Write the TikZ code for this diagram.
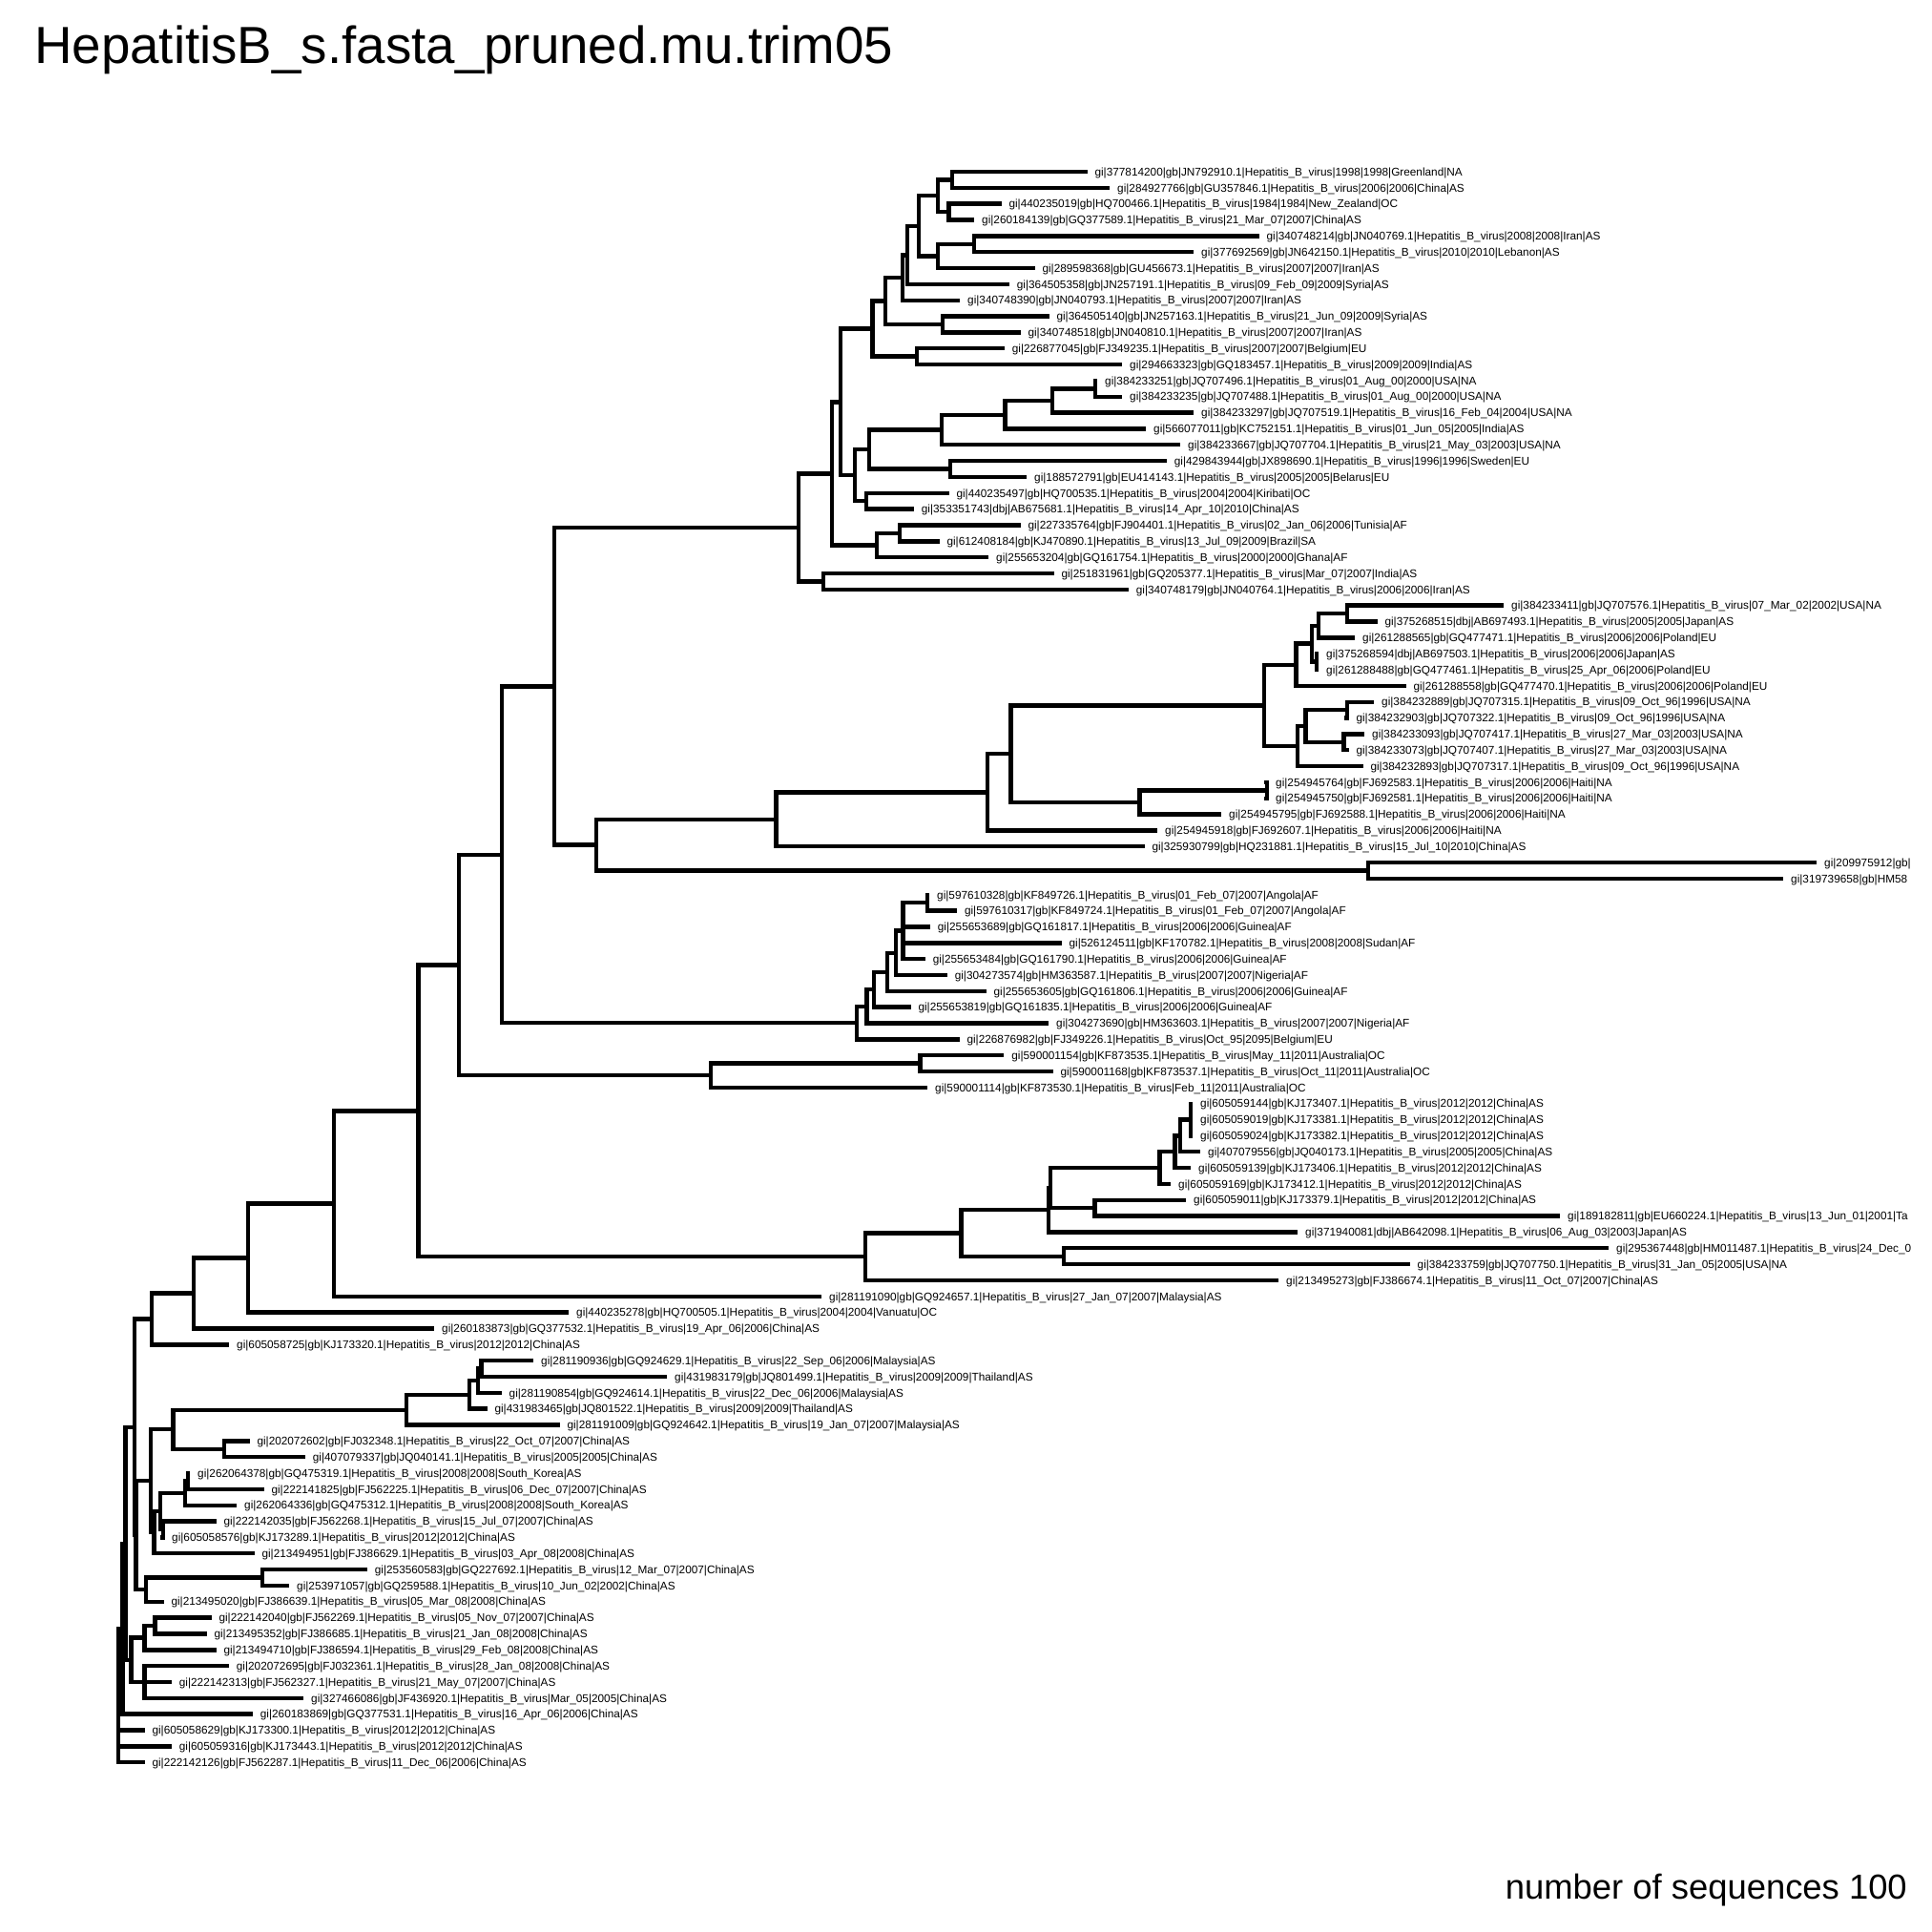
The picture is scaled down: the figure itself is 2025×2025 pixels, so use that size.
\documentclass[tikz,border=0pt]{standalone}
\usepackage{fontspec}
\setmainfont{Liberation Sans}
\usetikzlibrary{calc}
\newcommand\tipleaf[3]{%
  \coordinate (L#1) at ({#2-2},{180+16.84*(#1-1)});
  \node[lab] (t#1) at (L#1) {#3};}
\newcommand\tpoly[5]{%
  \path let \p1=($(#3)!0.5!(#4)$) in (#2pt,\y1) coordinate (#1);
  \draw[br] (#1 |- #3) -- (#1 |- #4);
  \foreach \c in {#5}{\draw[br] (#1 |- \c) -- (\c);}}
\newcommand\tbin[4]{\tpoly{#1}{#2}{#3}{#4}{#3,#4}}
\begin{document}
\begin{tikzpicture}[x=1pt,y=-1pt,
  br/.style={line width=4.4pt,line cap=rect},
  lab/.style={anchor=base west,inner sep=0pt,xshift=10pt,yshift=-4.2pt,font=\fontsize{11.8}{12}\selectfont}]
\fill[white] (0,0) rectangle (2025,2025);
\useasboundingbox (0,0) rectangle (2025,2025);
\clip (0,0) rectangle (2025,2025);
\node[anchor=base west,inner sep=0pt,font=\fontsize{54.7}{60}\selectfont] (title) at (36,67) {HepatitisB\_s.fasta\_pruned.mu.trim05};
\node[anchor=base east,inner sep=0pt,font=\fontsize{36.4}{40}\selectfont] (nseq) at (1999,1990) {number of sequences 100};
% leaves
\tipleaf{1}{1139.3}{gi|377814200|gb|JN792910.1|Hepatitis\_B\_virus|1998|1998|Greenland|NA}
\tipleaf{2}{1163}{gi|284927766|gb|GU357846.1|Hepatitis\_B\_virus|2006|2006|China|AS}
\tipleaf{3}{1049.3}{gi|440235019|gb|HQ700466.1|Hepatitis\_B\_virus|1984|1984|New\_Zealand|OC}
\tipleaf{4}{1021}{gi|260184139|gb|GQ377589.1|Hepatitis\_B\_virus|21\_Mar\_07|2007|China|AS}
\tipleaf{5}{1319.4}{gi|340748214|gb|JN040769.1|Hepatitis\_B\_virus|2008|2008|Iran|AS}
\tipleaf{6}{1251}{gi|377692569|gb|JN642150.1|Hepatitis\_B\_virus|2010|2010|Lebanon|AS}
\tipleaf{7}{1084.3}{gi|289598368|gb|GU456673.1|Hepatitis\_B\_virus|2007|2007|Iran|AS}
\tipleaf{8}{1057.7}{gi|364505358|gb|JN257191.1|Hepatitis\_B\_virus|09\_Feb\_09|2009|Syria|AS}
\tipleaf{9}{1006}{gi|340748390|gb|JN040793.1|Hepatitis\_B\_virus|2007|2007|Iran|AS}
\tipleaf{10}{1099.3}{gi|364505140|gb|JN257163.1|Hepatitis\_B\_virus|21\_Jun\_09|2009|Syria|AS}
\tipleaf{11}{1069.3}{gi|340748518|gb|JN040810.1|Hepatitis\_B\_virus|2007|2007|Iran|AS}
\tipleaf{12}{1052.7}{gi|226877045|gb|FJ349235.1|Hepatitis\_B\_virus|2007|2007|Belgium|EU}
\tipleaf{13}{1176}{gi|294663323|gb|GQ183457.1|Hepatitis\_B\_virus|2009|2009|India|AS}
\tipleaf{14}{1150}{gi|384233251|gb|JQ707496.1|Hepatitis\_B\_virus|01\_Aug\_00|2000|USA|NA}
\tipleaf{15}{1176}{gi|384233235|gb|JQ707488.1|Hepatitis\_B\_virus|01\_Aug\_00|2000|USA|NA}
\tipleaf{16}{1251}{gi|384233297|gb|JQ707519.1|Hepatitis\_B\_virus|16\_Feb\_04|2004|USA|NA}
\tipleaf{17}{1201}{gi|566077011|gb|KC752151.1|Hepatitis\_B\_virus|01\_Jun\_05|2005|India|AS}
\tipleaf{18}{1237}{gi|384233667|gb|JQ707704.1|Hepatitis\_B\_virus|21\_May\_03|2003|USA|NA}
\tipleaf{19}{1222.7}{gi|429843944|gb|JX898690.1|Hepatitis\_B\_virus|1996|1996|Sweden|EU}
\tipleaf{20}{1076}{gi|188572791|gb|EU414143.1|Hepatitis\_B\_virus|2005|2005|Belarus|EU}
\tipleaf{21}{994.3}{gi|440235497|gb|HQ700535.1|Hepatitis\_B\_virus|2004|2004|Kiribati|OC}
\tipleaf{22}{957.7}{gi|353351743|dbj|AB675681.1|Hepatitis\_B\_virus|14\_Apr\_10|2010|China|AS}
\tipleaf{23}{1069.3}{gi|227335764|gb|FJ904401.1|Hepatitis\_B\_virus|02\_Jan\_06|2006|Tunisia|AF}
\tipleaf{24}{984.3}{gi|612408184|gb|KJ470890.1|Hepatitis\_B\_virus|13\_Jul\_09|2009|Brazil|SA}
\tipleaf{25}{1036}{gi|255653204|gb|GQ161754.1|Hepatitis\_B\_virus|2000|2000|Ghana|AF}
\tipleaf{26}{1104.3}{gi|251831961|gb|GQ205377.1|Hepatitis\_B\_virus|Mar\_07|2007|India|AS}
\tipleaf{27}{1182.7}{gi|340748179|gb|JN040764.1|Hepatitis\_B\_virus|2006|2006|Iran|AS}
\tipleaf{28}{1576}{gi|384233411|gb|JQ707576.1|Hepatitis\_B\_virus|07\_Mar\_02|2002|USA|NA}
\tipleaf{29}{1443.3}{gi|375268515|dbj|AB697493.1|Hepatitis\_B\_virus|2005|2005|Japan|AS}
\tipleaf{30}{1420}{gi|261288565|gb|GQ477471.1|Hepatitis\_B\_virus|2006|2006|Poland|EU}
\tipleaf{31}{1382}{gi|375268594|dbj|AB697503.1|Hepatitis\_B\_virus|2006|2006|Japan|AS}
\tipleaf{32}{1382}{gi|261288488|gb|GQ477461.1|Hepatitis\_B\_virus|25\_Apr\_06|2006|Poland|EU}
\tipleaf{33}{1473.3}{gi|261288558|gb|GQ477470.1|Hepatitis\_B\_virus|2006|2006|Poland|EU}
\tipleaf{34}{1440}{gi|384232889|gb|JQ707315.1|Hepatitis\_B\_virus|09\_Oct\_96|1996|USA|NA}
\tipleaf{35}{1413.3}{gi|384232903|gb|JQ707322.1|Hepatitis\_B\_virus|09\_Oct\_96|1996|USA|NA}
\tipleaf{36}{1430}{gi|384233093|gb|JQ707417.1|Hepatitis\_B\_virus|27\_Mar\_03|2003|USA|NA}
\tipleaf{37}{1413.3}{gi|384233073|gb|JQ707407.1|Hepatitis\_B\_virus|27\_Mar\_03|2003|USA|NA}
\tipleaf{38}{1428.3}{gi|384232893|gb|JQ707317.1|Hepatitis\_B\_virus|09\_Oct\_96|1996|USA|NA}
\tipleaf{39}{1329}{gi|254945764|gb|FJ692583.1|Hepatitis\_B\_virus|2006|2006|Haiti|NA}
\tipleaf{40}{1329}{gi|254945750|gb|FJ692581.1|Hepatitis\_B\_virus|2006|2006|Haiti|NA}
\tipleaf{41}{1280}{gi|254945795|gb|FJ692588.1|Hepatitis\_B\_virus|2006|2006|Haiti|NA}
\tipleaf{42}{1213}{gi|254945918|gb|FJ692607.1|Hepatitis\_B\_virus|2006|2006|Haiti|NA}
\tipleaf{43}{1199.3}{gi|325930799|gb|HQ231881.1|Hepatitis\_B\_virus|15\_Jul\_10|2010|China|AS}
\tipleaf{44}{1904}{gi|209975912|gb|}
\tipleaf{45}{1869}{gi|319739658|gb|HM58}
\tipleaf{46}{974}{gi|597610328|gb|KF849726.1|Hepatitis\_B\_virus|01\_Feb\_07|2007|Angola|AF}
\tipleaf{47}{1002.8}{gi|597610317|gb|KF849724.1|Hepatitis\_B\_virus|01\_Feb\_07|2007|Angola|AF}
\tipleaf{48}{974.7}{gi|255653689|gb|GQ161817.1|Hepatitis\_B\_virus|2006|2006|Guinea|AF}
\tipleaf{49}{1112.4}{gi|526124511|gb|KF170782.1|Hepatitis\_B\_virus|2008|2008|Sudan|AF}
\tipleaf{50}{969.6}{gi|255653484|gb|GQ161790.1|Hepatitis\_B\_virus|2006|2006|Guinea|AF}
\tipleaf{51}{992.6}{gi|304273574|gb|HM363587.1|Hepatitis\_B\_virus|2007|2007|Nigeria|AF}
\tipleaf{52}{1033.4}{gi|255653605|gb|GQ161806.1|Hepatitis\_B\_virus|2006|2006|Guinea|AF}
\tipleaf{53}{954.3}{gi|255653819|gb|GQ161835.1|Hepatitis\_B\_virus|2006|2006|Guinea|AF}
\tipleaf{54}{1099}{gi|304273690|gb|HM363603.1|Hepatitis\_B\_virus|2007|2007|Nigeria|AF}
\tipleaf{55}{1005.3}{gi|226876982|gb|FJ349226.1|Hepatitis\_B\_virus|Oct\_95|2095|Belgium|EU}
\tipleaf{56}{1052.2}{gi|590001154|gb|KF873535.1|Hepatitis\_B\_virus|May\_11|2011|Australia|OC}
\tipleaf{57}{1103.3}{gi|590001168|gb|KF873537.1|Hepatitis\_B\_virus|Oct\_11|2011|Australia|OC}
\tipleaf{58}{972}{gi|590001114|gb|KF873530.1|Hepatitis\_B\_virus|Feb\_11|2011|Australia|OC}
\tipleaf{59}{1250}{gi|605059144|gb|KJ173407.1|Hepatitis\_B\_virus|2012|2012|China|AS}
\tipleaf{60}{1250}{gi|605059019|gb|KJ173381.1|Hepatitis\_B\_virus|2012|2012|China|AS}
\tipleaf{61}{1250}{gi|605059024|gb|KJ173382.1|Hepatitis\_B\_virus|2012|2012|China|AS}
\tipleaf{62}{1258}{gi|407079556|gb|JQ040173.1|Hepatitis\_B\_virus|2005|2005|China|AS}
\tipleaf{63}{1248}{gi|605059139|gb|KJ173406.1|Hepatitis\_B\_virus|2012|2012|China|AS}
\tipleaf{64}{1227}{gi|605059169|gb|KJ173412.1|Hepatitis\_B\_virus|2012|2012|China|AS}
\tipleaf{65}{1243}{gi|605059011|gb|KJ173379.1|Hepatitis\_B\_virus|2012|2012|China|AS}
\tipleaf{66}{1635}{gi|189182811|gb|EU660224.1|Hepatitis\_B\_virus|13\_Jun\_01|2001|Ta}
\tipleaf{67}{1360}{gi|371940081|dbj|AB642098.1|Hepatitis\_B\_virus|06\_Aug\_03|2003|Japan|AS}
\tipleaf{68}{1686}{gi|295367448|gb|HM011487.1|Hepatitis\_B\_virus|24\_Dec\_0}
\tipleaf{69}{1477.5}{gi|384233759|gb|JQ707750.1|Hepatitis\_B\_virus|31\_Jan\_05|2005|USA|NA}
\tipleaf{70}{1340}{gi|213495273|gb|FJ386674.1|Hepatitis\_B\_virus|11\_Oct\_07|2007|China|AS}
\tipleaf{71}{861}{gi|281191090|gb|GQ924657.1|Hepatitis\_B\_virus|27\_Jan\_07|2007|Malaysia|AS}
\tipleaf{72}{596}{gi|440235278|gb|HQ700505.1|Hepatitis\_B\_virus|2004|2004|Vanuatu|OC}
\tipleaf{73}{455}{gi|260183873|gb|GQ377532.1|Hepatitis\_B\_virus|19\_Apr\_06|2006|China|AS}
\tipleaf{74}{240}{gi|605058725|gb|KJ173320.1|Hepatitis\_B\_virus|2012|2012|China|AS}
\tipleaf{75}{559}{gi|281190936|gb|GQ924629.1|Hepatitis\_B\_virus|22\_Sep\_06|2006|Malaysia|AS}
\tipleaf{76}{699}{gi|431983179|gb|JQ801499.1|Hepatitis\_B\_virus|2009|2009|Thailand|AS}
\tipleaf{77}{525.5}{gi|281190854|gb|GQ924614.1|Hepatitis\_B\_virus|22\_Dec\_06|2006|Malaysia|AS}
\tipleaf{78}{510.3}{gi|431983465|gb|JQ801522.1|Hepatitis\_B\_virus|2009|2009|Thailand|AS}
\tipleaf{79}{586.3}{gi|281191009|gb|GQ924642.1|Hepatitis\_B\_virus|19\_Jan\_07|2007|Malaysia|AS}
\tipleaf{80}{261.3}{gi|202072602|gb|FJ032348.1|Hepatitis\_B\_virus|22\_Oct\_07|2007|China|AS}
\tipleaf{81}{319.7}{gi|407079337|gb|JQ040141.1|Hepatitis\_B\_virus|2005|2005|China|AS}
\tipleaf{82}{199}{gi|262064378|gb|GQ475319.1|Hepatitis\_B\_virus|2008|2008|South\_Korea|AS}
\tipleaf{83}{276.3}{gi|222141825|gb|FJ562225.1|Hepatitis\_B\_virus|06\_Dec\_07|2007|China|AS}
\tipleaf{84}{248}{gi|262064336|gb|GQ475312.1|Hepatitis\_B\_virus|2008|2008|South\_Korea|AS}
\tipleaf{85}{226.3}{gi|222142035|gb|FJ562268.1|Hepatitis\_B\_virus|15\_Jul\_07|2007|China|AS}
\tipleaf{86}{172}{gi|605058576|gb|KJ173289.1|Hepatitis\_B\_virus|2012|2012|China|AS}
\tipleaf{87}{266.3}{gi|213494951|gb|FJ386629.1|Hepatitis\_B\_virus|03\_Apr\_08|2008|China|AS}
\tipleaf{88}{384.7}{gi|253560583|gb|GQ227692.1|Hepatitis\_B\_virus|12\_Mar\_07|2007|China|AS}
\tipleaf{89}{303}{gi|253971057|gb|GQ259588.1|Hepatitis\_B\_virus|10\_Jun\_02|2002|China|AS}
\tipleaf{90}{171.3}{gi|213495020|gb|FJ386639.1|Hepatitis\_B\_virus|05\_Mar\_08|2008|China|AS}
\tipleaf{91}{221.3}{gi|222142040|gb|FJ562269.1|Hepatitis\_B\_virus|05\_Nov\_07|2007|China|AS}
\tipleaf{92}{216.3}{gi|213495352|gb|FJ386685.1|Hepatitis\_B\_virus|21\_Jan\_08|2008|China|AS}
\tipleaf{93}{226.3}{gi|213494710|gb|FJ386594.1|Hepatitis\_B\_virus|29\_Feb\_08|2008|China|AS}
\tipleaf{94}{239.7}{gi|202072695|gb|FJ032361.1|Hepatitis\_B\_virus|28\_Jan\_08|2008|China|AS}
\tipleaf{95}{179.7}{gi|222142313|gb|FJ562327.1|Hepatitis\_B\_virus|21\_May\_07|2007|China|AS}
\tipleaf{96}{318}{gi|327466086|gb|JF436920.1|Hepatitis\_B\_virus|Mar\_05|2005|China|AS}
\tipleaf{97}{264.7}{gi|260183869|gb|GQ377531.1|Hepatitis\_B\_virus|16\_Apr\_06|2006|China|AS}
\tipleaf{98}{151.3}{gi|605058629|gb|KJ173300.1|Hepatitis\_B\_virus|2012|2012|China|AS}
\tipleaf{99}{179.7}{gi|605059316|gb|KJ173443.1|Hepatitis\_B\_virus|2012|2012|China|AS}
\tipleaf{100}{151.3}{gi|222142126|gb|FJ562287.1|Hepatitis\_B\_virus|11\_Dec\_06|2006|China|AS}
% upper clade
\tbin{nA}{997.7}{L1}{L2}
\tbin{nB}{994.3}{L3}{L4}
\tbin{nC}{982.7}{nA}{nB}
\tbin{nD}{1021}{L5}{L6}
\tbin{nE}{982.7}{nD}{L7}
\tbin{nF}{962.7}{nC}{nE}
\tbin{nG}{951}{nF}{L8}
\tbin{nH}{946}{nG}{L9}
\tbin{nI}{987.7}{L10}{L11}
\tbin{nJ}{927.7}{nH}{nI}
\tbin{nK}{961}{L12}{L13}
\tbin{nL}{914.3}{nJ}{nK}
\tbin{nM}{1147.7}{L14}{L15}
\tbin{nN}{1102.7}{nM}{L16}
\tbin{nO}{1053.3}{nN}{L17}
\tbin{nP}{986.7}{nO}{L18}
\tbin{nQ}{996}{L19}{L20}
\tbin{nR}{911}{nP}{nQ}
\tbin{nS}{907.7}{L21}{L22}
\tbin{nT}{896}{nR}{nS}
\tbin{nV}{942.7}{L23}{L24}
\tbin{nW}{918.7}{nV}{L25}
\tbin{nX}{881}{nL}{nT}
\tbin{nY}{872}{nX}{nW}
\tbin{nZ}{862.7}{L26}{L27}
\tbin{nU}{837}{nY}{nZ}
% middle clade
\tbin{ma}{1411.7}{L28}{L29}
\tbin{mb}{1381.7}{ma}{L30}
\tbin{mc}{1380}{L31}{L32}
\tbin{md}{1375}{mb}{mc}
\tbin{me}{1358.3}{md}{L33}
\tbin{mf}{1411.7}{L34}{L35}
\tbin{mg}{1408.3}{L36}{L37}
\tbin{mh}{1368.3}{mf}{mg}
\tbin{mi}{1360}{mh}{L38}
\tbin{mj}{1325}{me}{mi}
\tbin{mk}{1328}{L39}{L40}
\tbin{mm}{1194.3}{mk}{L41}
\tbin{ml}{1059.3}{mj}{mm}
\tbin{mo}{1035}{ml}{L42}
\tbin{mp}{813.3}{mo}{L43}
\tbin{mn}{1434}{L44}{L45}
\tbin{mq}{625}{mp}{mn}
% Africa and Australia
\tbin{a1}{972.1}{L46}{L47}
\tpoly{a2}{946.6}{a1}{L50}{a1,L48,L49,L50}
\tbin{a3}{939}{a2}{L51}
\tbin{a4}{929.8}{a3}{L52}
\tbin{a5}{916}{a4}{L53}
\tbin{a6}{908.4}{a5}{L54}
\tbin{a7}{898.2}{a6}{L55}
\tbin{au1}{964.5}{L56}{L57}
\tbin{au2}{745.1}{au1}{L58}
% China clade
\tpoly{c1}{1248}{L59}{L61}{L59,L60,L61}
\tbin{c2}{1237}{c1}{L62}
\tbin{c3}{1231.4}{c2}{L63}
\tbin{c4}{1215.6}{c3}{L64}
\tbin{c5}{1147.5}{L65}{L66}
\tbin{c6}{1101}{c4}{c5}
\tbin{c7}{1099}{c6}{L67}
\tbin{c9}{1115.2}{L68}{L69}
\tbin{c8}{1007.6}{c7}{c9}
\tbin{c10}{907.2}{c8}{L70}
% backbone
\tbin{bb1}{581}{nU}{mq}
\tbin{bb2}{525.8}{bb1}{a7}
\tbin{bb3}{481}{bb2}{au2}
\tbin{bb4}{438.5}{bb3}{c10}
\tbin{bb5}{350}{bb4}{L71}
\tbin{bb6}{259.8}{bb5}{L72}
\tbin{bb7}{203}{bb6}{L73}
\tbin{bb8}{159}{bb7}{L74}
% lower clade
\tbin{l1}{504.3}{L75}{L76}
\tbin{l2}{501.2}{l1}{L77}
\tbin{l3}{492}{l2}{L78}
\tbin{l4}{426}{l3}{L79}
\tbin{l5}{234.7}{L80}{L81}
\tbin{l6}{181.3}{l4}{l5}
\tbin{b1}{197}{L82}{L83}
\tbin{b2}{194}{b1}{L84}
\tbin{b3}{170.7}{L85}{L86}
\tbin{b4}{168}{b2}{b3}
\tbin{b5}{161.3}{b4}{L87}
\tbin{b6}{158}{l6}{b5}
\tbin{g1}{274.7}{L88}{L89}
\tbin{g2}{153}{g1}{L90}
\tbin{g3}{142.4}{b6}{g2}
\tbin{z1}{141}{bb8}{g3}
\tbin{d1}{162.3}{L91}{L92}
\tbin{d2}{151.3}{d1}{L93}
\tpoly{d3}{151.3}{L94}{L96}{L94,L95,L96}
\tbin{d4}{137.3}{d2}{d3}
\tbin{p1}{131.3}{z1}{d4}
\tbin{p2}{128.5}{p1}{L97}
\tpoly{root}{124}{p2}{L100}{p2,L98,L99,L100}
\end{tikzpicture}
\end{document}
